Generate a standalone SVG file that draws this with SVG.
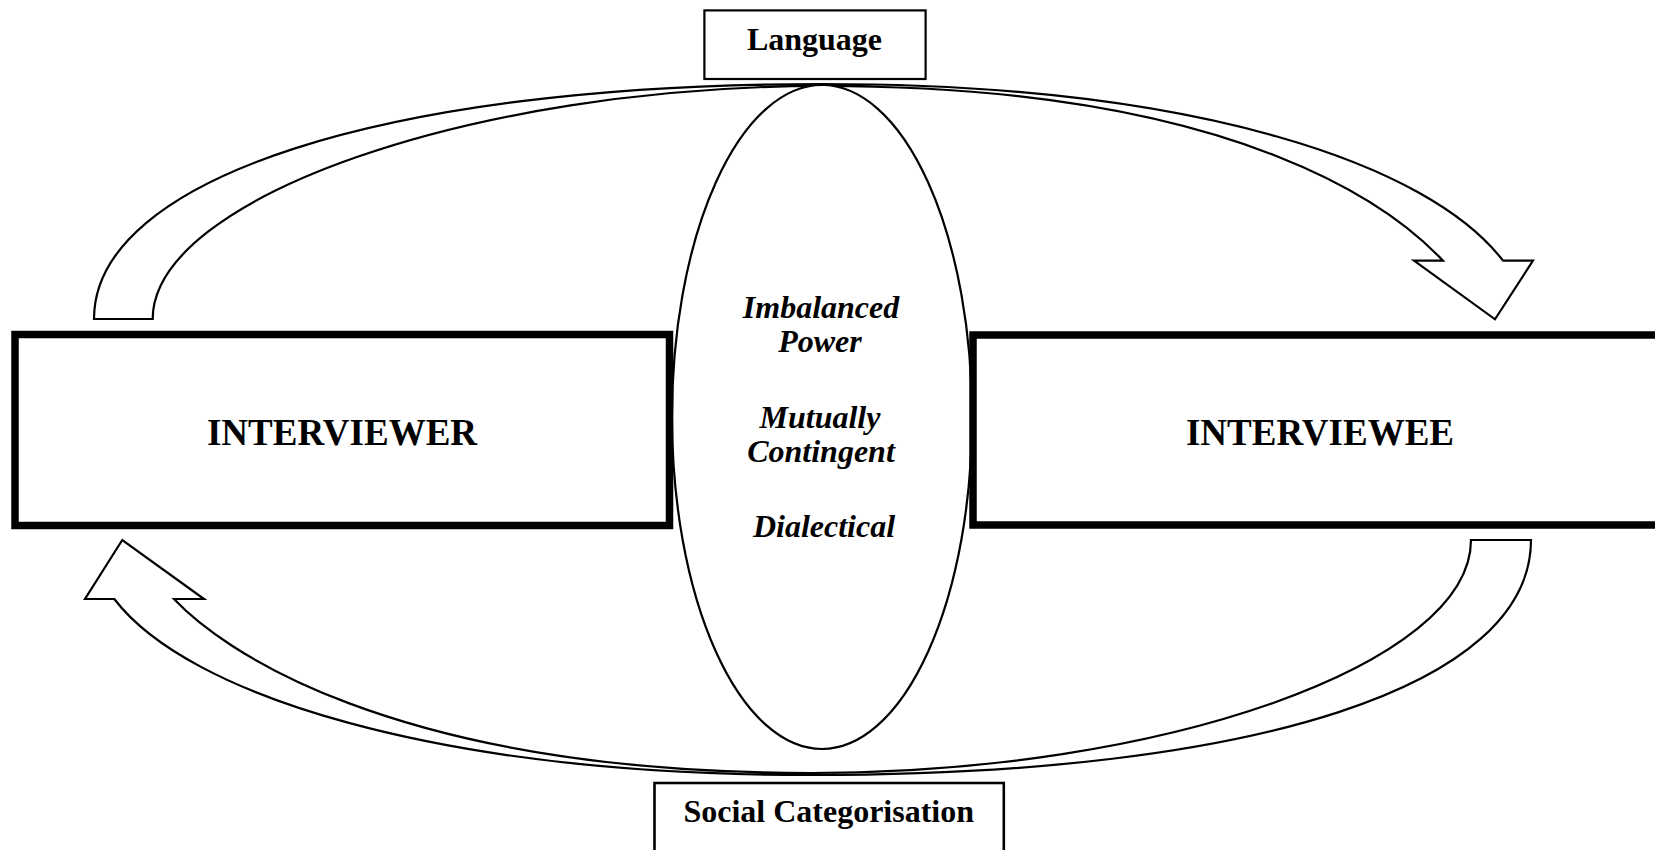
<svg xmlns="http://www.w3.org/2000/svg" width="1655" height="850" viewBox="0 0 1655 850">
<style>
text{font-family:"Liberation Serif","Times New Roman",serif;font-weight:bold;fill:#000;text-anchor:middle}
.lbl{font-size:32px}
.main{font-size:37px}
.it{font-size:32px;font-style:italic}
.thin{fill:#fff;stroke:#000;stroke-width:2.2}
.thick{fill:#fff;stroke:#000;stroke-width:7.5}
.arrow{fill:#fff;stroke:#000;stroke-width:2.2;stroke-linejoin:miter}
</style>
<rect width="1655" height="850" fill="#fff"/>
<g id="connectors">
<path class="arrow" d="M 94,319 C 94,178 385.2,84 822,84 C 1200,84 1430,165 1503,260.7 L 1533,260.7 L 1495,319.3 L 1414,260.7 L 1443,260.7 C 1400,215 1250,86 822,86 C 474,86 152.7,197.8 152.7,319 Z"/>
<path class="arrow" d="M 1531,540 C 1531,685.7 1257.8,775 812,775 C 434,775 187.3,694.7 114.3,599 L 85,599 L 122.3,540 L 204,599 L 174,599 C 217,644.7 384,773 812,773 C 1161.3,773 1471,664.5 1471,540 Z"/>
</g>
<g id="relation">
<ellipse class="thin" cx="822" cy="417" rx="150" ry="332"/>
<text class="it" x="821" y="318">Imbalanced</text>
<text class="it" x="820" y="352">Power</text>
<text class="it" x="820" y="428">Mutually</text>
<text class="it" x="821" y="462">Contingent</text>
<text class="it" x="824" y="537">Dialectical</text>
</g>
<g id="interviewer">
<rect class="thick" x="15" y="334.5" width="654.5" height="191"/>
<text class="main" x="342" y="445">INTERVIEWER</text>
</g>
<g id="interviewee">
<rect class="thick" x="973" y="335" width="720" height="190"/>
<text class="main" x="1320" y="445">INTERVIEWEE</text>
</g>
<g id="language">
<rect class="thin" x="704.4" y="10.4" width="221.2" height="68.6"/>
<text class="lbl" x="814.5" y="50">Language</text>
</g>
<g id="social">
<rect class="thin" x="654.5" y="783" width="349.3" height="100" style="stroke-width:2.6"/>
<text class="lbl" x="828.7" y="821.7">Social Categorisation</text>
</g>
</svg>
